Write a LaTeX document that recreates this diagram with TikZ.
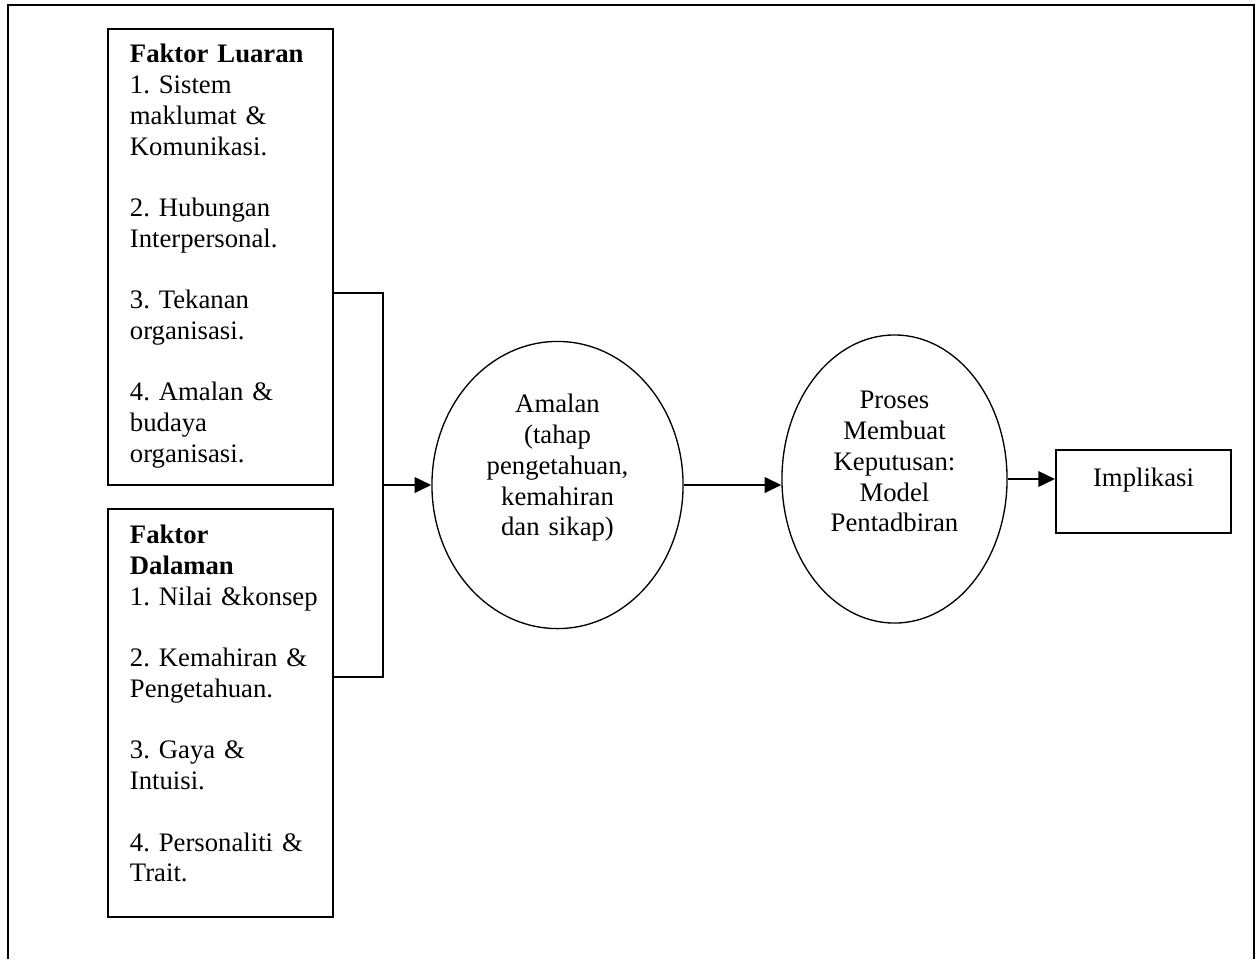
\documentclass[tikz,border=0pt]{standalone}
\usepackage{fontspec}
\setmainfont{Liberation Serif}
\usepackage{tikz}
\usetikzlibrary{arrows.meta, shapes.geometric}
\frenchspacing

\begin{document}
\begin{tikzpicture}[
        x=0.0158cm, y=-0.0158cm,
        font=\fontsize{12}{13.8}\selectfont,
        block/.style={rectangle, draw, line width=0.9pt, text width=2.86cm, align=left, inner xsep=0.35cm, inner ysep=0pt},
        oval/.style={ellipse, draw, line width=0.6pt, text width=2.37cm, align=center, inner sep=0pt, text height=0.284cm},
        arrow/.style={line width=0.9pt,-{Triangle[length=7.5pt,width=7pt]}}
    ]
        \useasboundingbox (0,0) rectangle (1256,959);
        % Frame
        \draw[line width=1pt] (8,959) -- (8,5) -- (1254,5) -- (1254,959);

        % Nodes
        \node[block, text height=0.537cm, text depth=6.668cm] (luar) at (220.5,257) {\textbf{Faktor Luaran}\\ 1. Sistem\\ maklumat \&\\ Komunikasi.\\[13.8pt] 2. Hubungan\\ Interpersonal.\\[13.8pt] 3. Tekanan\\ organisasi.\\[13.8pt] 4. Amalan \&\\ budaya\\ organisasi.};
        \node[block, text height=0.553cm, text depth=5.893cm] (dalam) at (220.5,713) {\textbf{Faktor}\\ \textbf{Dalaman}\\ \mbox{1. Nilai \&konsep}\\[13.8pt] \mbox{2. Kemahiran \&}\\ Pengetahuan.\\[13.8pt] 3. Gaya \&\\ Intuisi.\\[13.8pt] \mbox{4. Personaliti \&}\\ Trait.};
        \node[oval, minimum width=3.966cm, minimum height=4.535cm, text depth=2.56cm] (amalan) at (557.5,485) {Amalan\\ (tahap\\ pengetahuan,\\ kemahiran\\ dan sikap)};
        \node[oval, minimum width=3.555cm, minimum height=4.55cm, text depth=2.496cm] (proses) at (894.5,479) {Proses\\ Membuat\\ Keputusan:\\ Model\\ Pentadbiran};
        \node[rectangle, draw, line width=0.9pt, minimum width=2.765cm, inner ysep=0pt, text height=0.569cm, text depth=0.743cm] (impl) at (1143.5,491.5) {Implikasi};

        % Join
        \coordinate (jtop) at (383,293);
        \coordinate (jbot) at (383,677);
        \draw[line width=0.9pt] (jtop -| luar.east) -- (jtop) -- (jbot) -- (jbot -| dalam.east);

        % Arrows
        \draw[arrow] (jtop |- amalan.west) -- (amalan.west);
        \draw[arrow] (amalan.east) -- (amalan.east -| proses.west);
        \draw[arrow] (proses.east) -- (proses.east -| impl.west);
    \end{tikzpicture}
\end{document}
